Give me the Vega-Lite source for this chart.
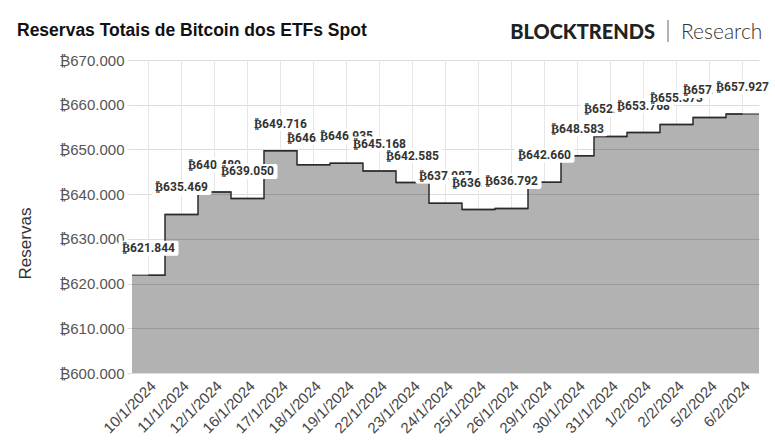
{
"$schema": "https://vega.github.io/schema/vega-lite/v6.json",
"width": 627, "height": 313,
"autosize": {"type": "none"},
"padding": {"left": 132, "top": 60, "right": 16, "bottom": 74},
"background": "white",
"config": {
 "locale": {"number": {"decimal": ",", "thousands": ".", "grouping": [3], "currency": ["₿", ""]}},
 "view": {"stroke": null}
},
"data": {"values": [
 {"d": "10/1/2024", "v": 621844},
 {"d": "11/1/2024", "v": 635469},
 {"d": "12/1/2024", "v": 640480},
 {"d": "16/1/2024", "v": 639050},
 {"d": "17/1/2024", "v": 649716},
 {"d": "18/1/2024", "v": 646600},
 {"d": "19/1/2024", "v": 646935},
 {"d": "22/1/2024", "v": 645168},
 {"d": "23/1/2024", "v": 642585},
 {"d": "24/1/2024", "v": 637987},
 {"d": "25/1/2024", "v": 636550},
 {"d": "26/1/2024", "v": 636792},
 {"d": "29/1/2024", "v": 642660},
 {"d": "30/1/2024", "v": 648583},
 {"d": "31/1/2024", "v": 652900},
 {"d": "1/2/2024", "v": 653768},
 {"d": "2/2/2024", "v": 655573},
 {"d": "5/2/2024", "v": 657150},
 {"d": "6/2/2024", "v": 657927}
]},
"encoding": {
 "x": {"field": "d", "type": "ordinal", "sort": null, "scale": {"paddingInner": 0, "paddingOuter": 0},
   "axis": {"title": null, "labelAngle": -45, "labelFont": "Liberation Sans", "labelFontSize": 15, "labelColor": "#444", "ticks": false, "domain": false, "grid": false, "labelPadding": 5}},
 "y": {"field": "v", "type": "quantitative", "scale": {"domain": [600000, 670000], "nice": false, "zero": false},
   "axis": {"title": "Reservas", "format": "$,.0f", "values": [600000, 610000, 620000, 630000, 640000, 650000, 660000, 670000], "labelFont": "Liberation Sans", "labelFontSize": 15, "labelColor": "#555", "domain": false, "gridColor": "#dcdcdc", "tickColor": "#dcdcdc", "tickSize": 5, "labelPadding": 3, "titleFont": "Liberation Sans", "titleFontSize": 17, "titleFontWeight": "normal", "titleColor": "#333", "titleX": -107, "titleY": 183, "titleAngle": -90, "titleAlign": "center", "titleBaseline": "middle"}}
},
"layer": [
 {"mark": {"type": "rule", "color": "#e6e6e6", "strokeWidth": 1}, "encoding": {"y2": {"datum": 670000}}},
 {"mark": {"type": "rect", "fill": "#000", "fillOpacity": 0.3}, "encoding": {"y2": {"datum": 600000}}},
 {"mark": {"type": "line", "interpolate": "step", "color": "#2b2b2b", "strokeWidth": 1.5}},
 {"mark": {"type": "tick", "orient": "horizontal", "size": 33, "thickness": 1.5, "color": "#2b2b2b"}},
 {"transform": [{"filter": "datum.d == '10/1/2024'"}], "layer": [
  {"mark": {"type": "bar", "fill": "white", "width": 60, "cornerRadius": 2, "yOffset": -19.5, "y2Offset": -34.5}, "encoding": {"y2": {"field": "v"}}},
  {"mark": {"type": "text", "dy": -27, "font": "Roboto", "fontWeight": "bold", "fontSize": 12, "fill": "#333"}, "encoding": {"text": {"field": "v", "format": "$,.0f"}}}]},
 {"transform": [{"filter": "datum.d == '11/1/2024'"}], "layer": [
  {"mark": {"type": "bar", "fill": "white", "width": 60, "cornerRadius": 2, "yOffset": -19.5, "y2Offset": -34.5}, "encoding": {"y2": {"field": "v"}}},
  {"mark": {"type": "text", "dy": -27, "font": "Roboto", "fontWeight": "bold", "fontSize": 12, "fill": "#333"}, "encoding": {"text": {"field": "v", "format": "$,.0f"}}}]},
 {"transform": [{"filter": "datum.d == '12/1/2024'"}], "layer": [
  {"mark": {"type": "bar", "fill": "white", "width": 60, "cornerRadius": 2, "yOffset": -19.5, "y2Offset": -34.5}, "encoding": {"y2": {"field": "v"}}},
  {"mark": {"type": "text", "dy": -27, "font": "Roboto", "fontWeight": "bold", "fontSize": 12, "fill": "#333"}, "encoding": {"text": {"field": "v", "format": "$,.0f"}}}]},
 {"transform": [{"filter": "datum.d == '16/1/2024'"}], "layer": [
  {"mark": {"type": "bar", "fill": "white", "width": 60, "cornerRadius": 2, "yOffset": -19.5, "y2Offset": -34.5}, "encoding": {"y2": {"field": "v"}}},
  {"mark": {"type": "text", "dy": -27, "font": "Roboto", "fontWeight": "bold", "fontSize": 12, "fill": "#333"}, "encoding": {"text": {"field": "v", "format": "$,.0f"}}}]},
 {"transform": [{"filter": "datum.d == '17/1/2024'"}], "layer": [
  {"mark": {"type": "bar", "fill": "white", "width": 60, "cornerRadius": 2, "yOffset": -19.5, "y2Offset": -34.5}, "encoding": {"y2": {"field": "v"}}},
  {"mark": {"type": "text", "dy": -27, "font": "Roboto", "fontWeight": "bold", "fontSize": 12, "fill": "#333"}, "encoding": {"text": {"field": "v", "format": "$,.0f"}}}]},
 {"transform": [{"filter": "datum.d == '18/1/2024'"}], "layer": [
  {"mark": {"type": "bar", "fill": "white", "width": 60, "cornerRadius": 2, "yOffset": -19.5, "y2Offset": -34.5}, "encoding": {"y2": {"field": "v"}}},
  {"mark": {"type": "text", "dy": -27, "font": "Roboto", "fontWeight": "bold", "fontSize": 12, "fill": "#333"}, "encoding": {"text": {"field": "v", "format": "$,.0f"}}}]},
 {"transform": [{"filter": "datum.d == '19/1/2024'"}], "layer": [
  {"mark": {"type": "bar", "fill": "white", "width": 60, "cornerRadius": 2, "yOffset": -19.5, "y2Offset": -34.5}, "encoding": {"y2": {"field": "v"}}},
  {"mark": {"type": "text", "dy": -27, "font": "Roboto", "fontWeight": "bold", "fontSize": 12, "fill": "#333"}, "encoding": {"text": {"field": "v", "format": "$,.0f"}}}]},
 {"transform": [{"filter": "datum.d == '22/1/2024'"}], "layer": [
  {"mark": {"type": "bar", "fill": "white", "width": 60, "cornerRadius": 2, "yOffset": -19.5, "y2Offset": -34.5}, "encoding": {"y2": {"field": "v"}}},
  {"mark": {"type": "text", "dy": -27, "font": "Roboto", "fontWeight": "bold", "fontSize": 12, "fill": "#333"}, "encoding": {"text": {"field": "v", "format": "$,.0f"}}}]},
 {"transform": [{"filter": "datum.d == '23/1/2024'"}], "layer": [
  {"mark": {"type": "bar", "fill": "white", "width": 60, "cornerRadius": 2, "yOffset": -19.5, "y2Offset": -34.5}, "encoding": {"y2": {"field": "v"}}},
  {"mark": {"type": "text", "dy": -27, "font": "Roboto", "fontWeight": "bold", "fontSize": 12, "fill": "#333"}, "encoding": {"text": {"field": "v", "format": "$,.0f"}}}]},
 {"transform": [{"filter": "datum.d == '24/1/2024'"}], "layer": [
  {"mark": {"type": "bar", "fill": "white", "width": 60, "cornerRadius": 2, "yOffset": -19.5, "y2Offset": -34.5}, "encoding": {"y2": {"field": "v"}}},
  {"mark": {"type": "text", "dy": -27, "font": "Roboto", "fontWeight": "bold", "fontSize": 12, "fill": "#333"}, "encoding": {"text": {"field": "v", "format": "$,.0f"}}}]},
 {"transform": [{"filter": "datum.d == '25/1/2024'"}], "layer": [
  {"mark": {"type": "bar", "fill": "white", "width": 60, "cornerRadius": 2, "yOffset": -19.5, "y2Offset": -34.5}, "encoding": {"y2": {"field": "v"}}},
  {"mark": {"type": "text", "dy": -27, "font": "Roboto", "fontWeight": "bold", "fontSize": 12, "fill": "#333"}, "encoding": {"text": {"field": "v", "format": "$,.0f"}}}]},
 {"transform": [{"filter": "datum.d == '26/1/2024'"}], "layer": [
  {"mark": {"type": "bar", "fill": "white", "width": 60, "cornerRadius": 2, "yOffset": -19.5, "y2Offset": -34.5}, "encoding": {"y2": {"field": "v"}}},
  {"mark": {"type": "text", "dy": -27, "font": "Roboto", "fontWeight": "bold", "fontSize": 12, "fill": "#333"}, "encoding": {"text": {"field": "v", "format": "$,.0f"}}}]},
 {"transform": [{"filter": "datum.d == '29/1/2024'"}], "layer": [
  {"mark": {"type": "bar", "fill": "white", "width": 60, "cornerRadius": 2, "yOffset": -19.5, "y2Offset": -34.5}, "encoding": {"y2": {"field": "v"}}},
  {"mark": {"type": "text", "dy": -27, "font": "Roboto", "fontWeight": "bold", "fontSize": 12, "fill": "#333"}, "encoding": {"text": {"field": "v", "format": "$,.0f"}}}]},
 {"transform": [{"filter": "datum.d == '30/1/2024'"}], "layer": [
  {"mark": {"type": "bar", "fill": "white", "width": 60, "cornerRadius": 2, "yOffset": -19.5, "y2Offset": -34.5}, "encoding": {"y2": {"field": "v"}}},
  {"mark": {"type": "text", "dy": -27, "font": "Roboto", "fontWeight": "bold", "fontSize": 12, "fill": "#333"}, "encoding": {"text": {"field": "v", "format": "$,.0f"}}}]},
 {"transform": [{"filter": "datum.d == '31/1/2024'"}], "layer": [
  {"mark": {"type": "bar", "fill": "white", "width": 60, "cornerRadius": 2, "yOffset": -19.5, "y2Offset": -34.5}, "encoding": {"y2": {"field": "v"}}},
  {"mark": {"type": "text", "dy": -27, "font": "Roboto", "fontWeight": "bold", "fontSize": 12, "fill": "#333"}, "encoding": {"text": {"field": "v", "format": "$,.0f"}}}]},
 {"transform": [{"filter": "datum.d == '1/2/2024'"}], "layer": [
  {"mark": {"type": "bar", "fill": "white", "width": 60, "cornerRadius": 2, "yOffset": -19.5, "y2Offset": -34.5}, "encoding": {"y2": {"field": "v"}}},
  {"mark": {"type": "text", "dy": -27, "font": "Roboto", "fontWeight": "bold", "fontSize": 12, "fill": "#333"}, "encoding": {"text": {"field": "v", "format": "$,.0f"}}}]},
 {"transform": [{"filter": "datum.d == '2/2/2024'"}], "layer": [
  {"mark": {"type": "bar", "fill": "white", "width": 60, "cornerRadius": 2, "yOffset": -19.5, "y2Offset": -34.5}, "encoding": {"y2": {"field": "v"}}},
  {"mark": {"type": "text", "dy": -27, "font": "Roboto", "fontWeight": "bold", "fontSize": 12, "fill": "#333"}, "encoding": {"text": {"field": "v", "format": "$,.0f"}}}]},
 {"transform": [{"filter": "datum.d == '5/2/2024'"}], "layer": [
  {"mark": {"type": "bar", "fill": "white", "width": 60, "cornerRadius": 2, "yOffset": -19.5, "y2Offset": -34.5}, "encoding": {"y2": {"field": "v"}}},
  {"mark": {"type": "text", "dy": -27, "font": "Roboto", "fontWeight": "bold", "fontSize": 12, "fill": "#333"}, "encoding": {"text": {"field": "v", "format": "$,.0f"}}}]},
 {"transform": [{"filter": "datum.d == '6/2/2024'"}], "layer": [
  {"mark": {"type": "bar", "fill": "white", "width": 60, "cornerRadius": 2, "yOffset": -19.5, "y2Offset": -34.5}, "encoding": {"y2": {"field": "v"}}},
  {"mark": {"type": "text", "dy": -27, "font": "Roboto", "fontWeight": "bold", "fontSize": 12, "fill": "#333"}, "encoding": {"text": {"field": "v", "format": "$,.0f"}}}]},
 {"data": {"values": [{"t": "Reservas Totais de Bitcoin dos ETFs Spot"}]}, "mark": {"type": "text", "font": "Liberation Sans", "fontWeight": "bold", "fontSize": 17.5, "align": "left", "baseline": "alphabetic", "color": "#111"}, "encoding": {"text": {"field": "t"}, "x": {"value": -115}, "y": {"value": -24}}},
 {"data": {"values": [{"t": "BLOCKTRENDS"}]}, "mark": {"type": "text", "font": "Lato", "fontWeight": 900, "fontSize": 20, "align": "right", "baseline": "alphabetic", "color": "#222"}, "encoding": {"text": {"field": "t"}, "x": {"value": 523}, "y": {"value": -21}}},
 {"data": {"values": [{"t": "Research"}]}, "mark": {"type": "text", "font": "Lato", "fontWeight": 300, "fontSize": 21, "align": "left", "baseline": "alphabetic", "color": "#333"}, "encoding": {"text": {"field": "t"}, "x": {"value": 549}, "y": {"value": -21}}},
 {"data": {"values": [{"t": "|"}]}, "mark": {"type": "rule", "color": "#666", "strokeWidth": 1}, "encoding": {"x": {"value": 536}, "y": {"value": -40}, "y2": {"value": -18}}}
]
}
